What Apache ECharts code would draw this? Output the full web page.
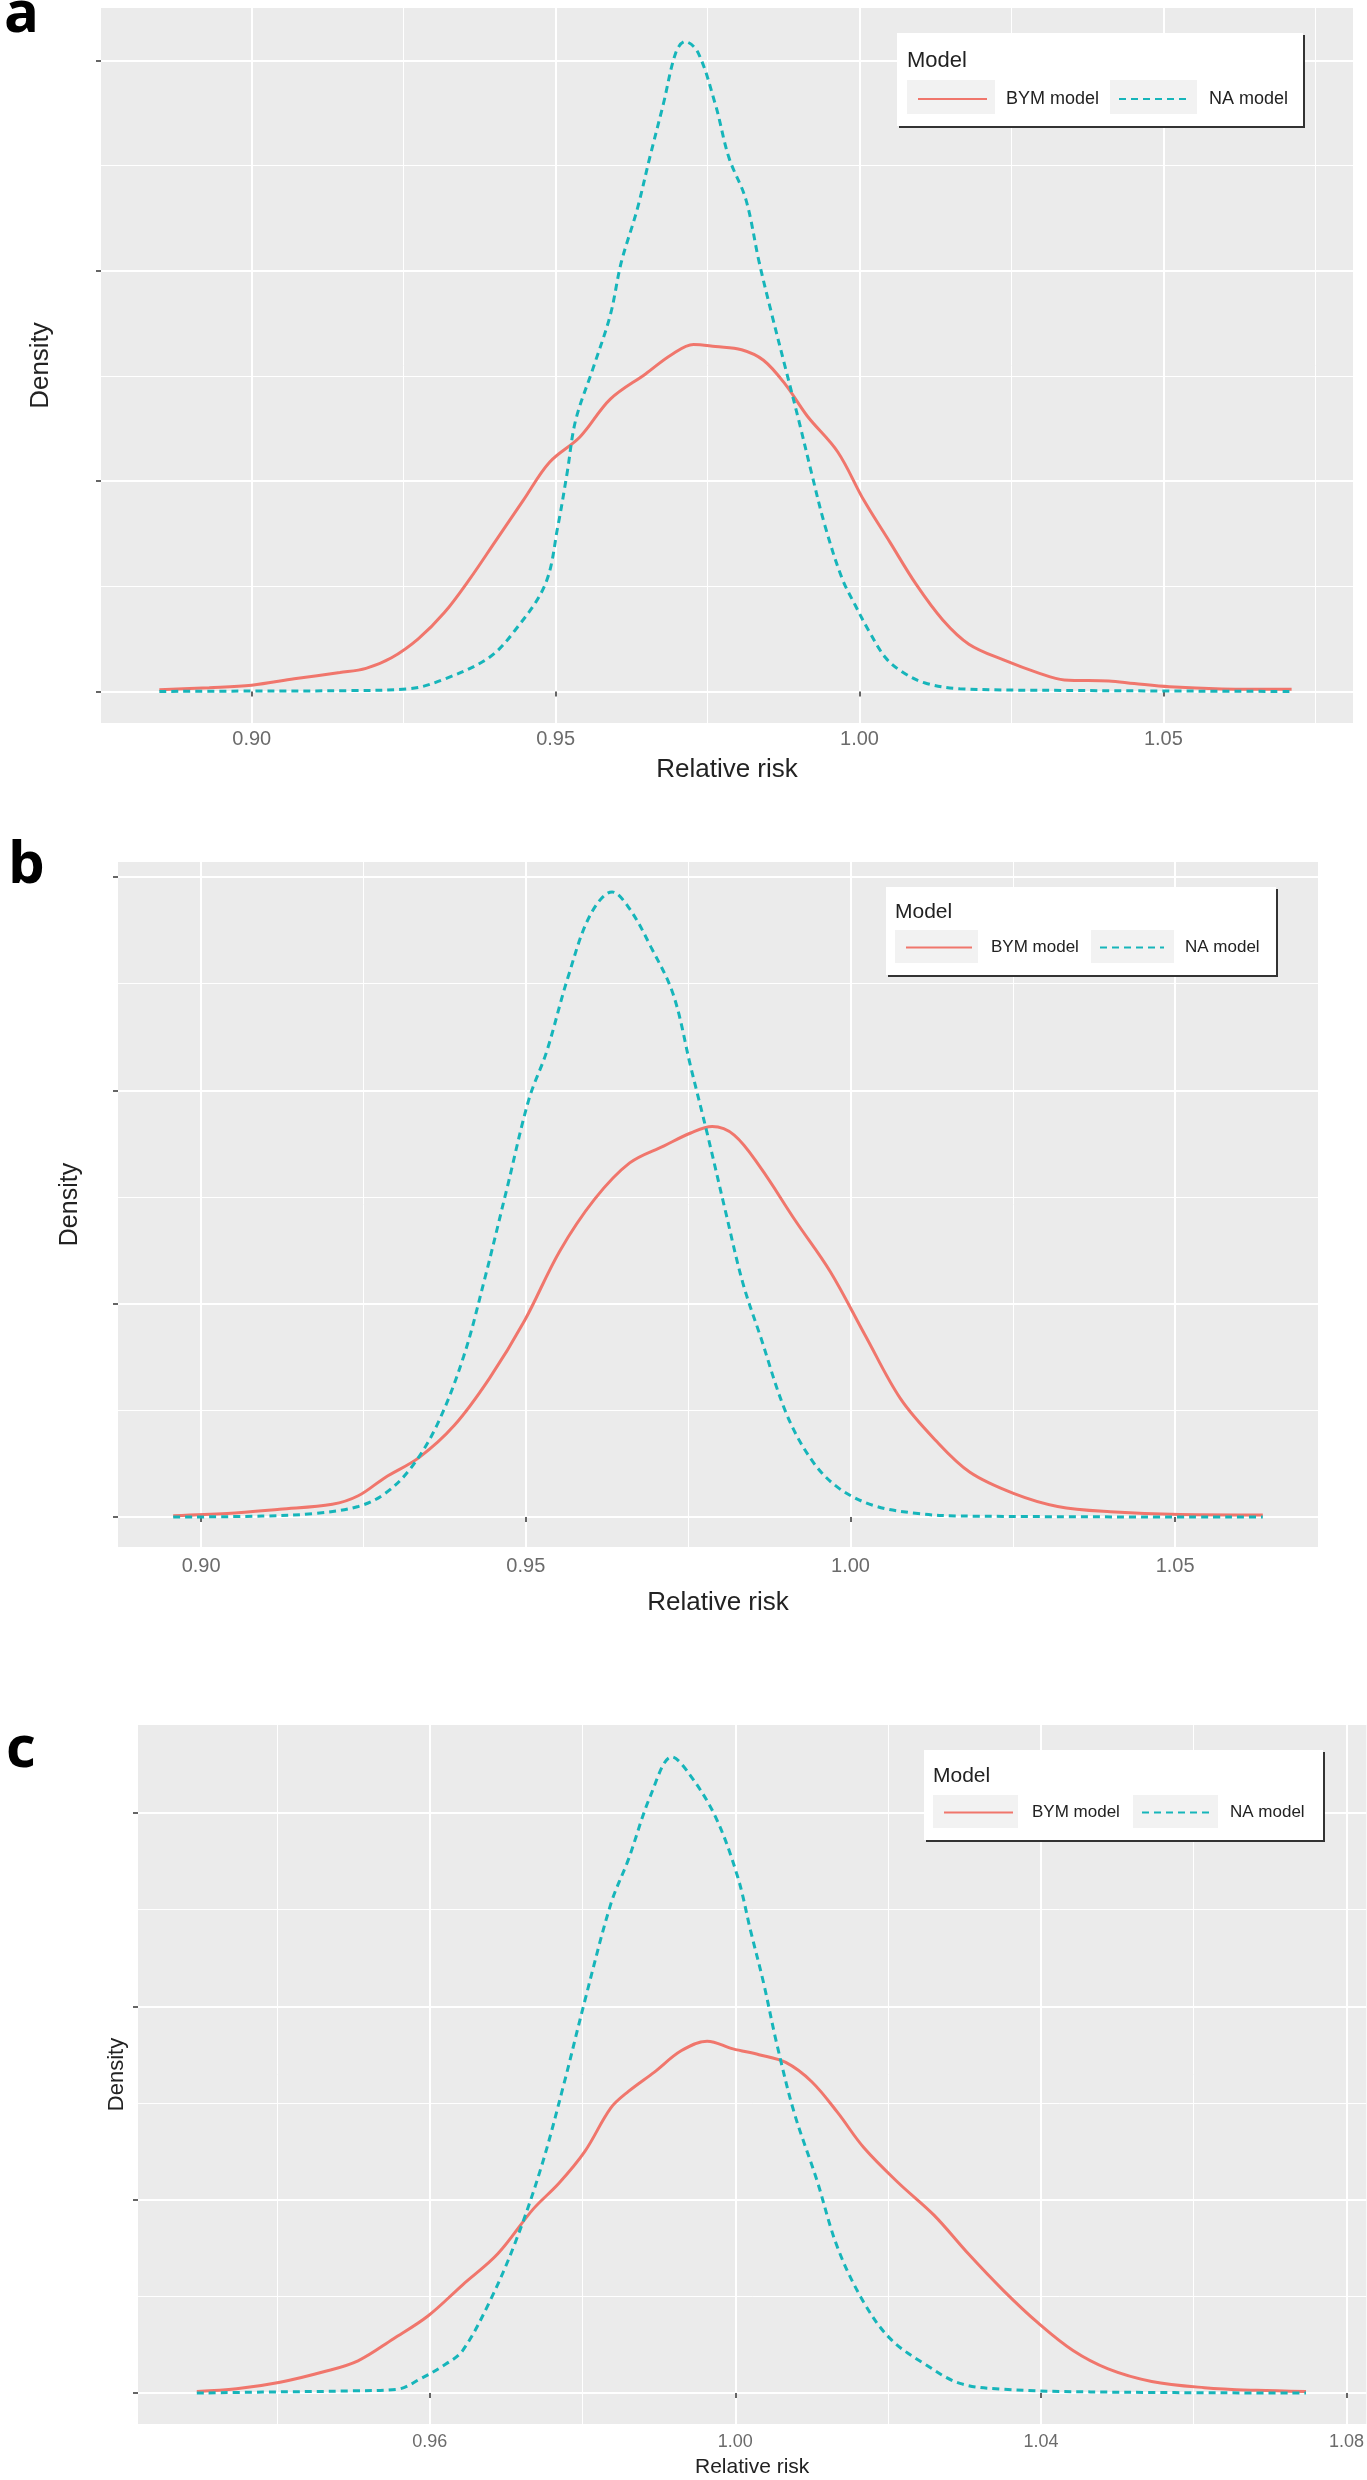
<!DOCTYPE html>
<html>
<head>
<meta charset="utf-8">
<script src="https://cdn.jsdelivr.net/npm/echarts@6/dist/echarts.min.js"></script>
<style>
html,body{margin:0;padding:0;background:#fff;}
#chart{width:1367px;height:2480px;}
</style>
</head>
<body>
<div id="chart"></div>
<script>
// ---------------- data ----------------
const seriesNames = ['BYM model', 'NA model'];
const panelLabels = ['a', 'b', 'c'];

// Panel a
const naA_x  = [0.8848,0.900,0.916,0.926,0.9318,0.939,0.9433,0.9483,0.9504,0.9519,0.9533,0.9562,0.959,0.9608,0.9634,0.9655,0.9677,0.9698,0.9713,0.9734,0.9763,0.9785,0.9813,0.9835,0.9856,0.9878,0.99,0.9921,0.9943,0.9971,0.9993,1.0015,1.0043,1.0072,1.0108,1.0165,1.0338,1.0711];
const naA_y  = [0,0.002,0.004,0.013,0.06,0.16,0.29,0.51,0.79,1.04,1.29,1.54,1.79,2.04,2.29,2.54,2.79,3.04,3.09,3.04,2.79,2.54,2.34,2.04,1.79,1.54,1.29,1.04,0.79,0.54,0.41,0.29,0.16,0.09,0.04,0.013,0.005,0];
const bymA_x = [0.8848,0.893,0.900,0.907,0.9145,0.9188,0.923,0.9274,0.9317,0.936,0.940,0.9447,0.949,0.954,0.959,0.9648,0.969,0.9727,0.9763,0.9806,0.9842,0.9878,0.9914,0.9964,1.0007,1.005,1.0093,1.0137,1.018,1.0237,1.0295,1.0337,1.041,1.0452,1.051,1.0596,1.0711];
const bymA_y = [0.008,0.018,0.03,0.06,0.09,0.11,0.16,0.25,0.375,0.54,0.71,0.91,1.09,1.21,1.39,1.51,1.60,1.65,1.64,1.625,1.575,1.46,1.31,1.14,0.91,0.71,0.51,0.34,0.225,0.15,0.0875,0.055,0.05,0.0375,0.022,0.012,0.01];

// Panel b
const naB_x  = [0.8957,0.9094,0.9175,0.9242,0.9283,0.9323,0.9363,0.9404,0.9437,0.9471,0.9505,0.9532,0.9565,0.9599,0.9633,0.966,0.9693,0.9727,0.9754,0.978,0.9807,0.9834,0.9861,0.9902,0.9942,0.9982,1.0036,1.0104,1.0171,1.0635];
const naB_y  = [0,0.005,0.017,0.05,0.11,0.23,0.43,0.75,1.12,1.54,1.96,2.18,2.53,2.82,2.93,2.85,2.67,2.45,2.11,1.79,1.44,1.10,0.85,0.48,0.26,0.136,0.054,0.017,0.005,0];
const bymB_x = [0.8957,0.904,0.9121,0.9202,0.9242,0.9283,0.9336,0.939,0.9444,0.9498,0.9552,0.9606,0.966,0.9713,0.9754,0.9787,0.9821,0.9861,0.9915,0.9969,1.0023,1.0077,1.0131,1.0184,1.0252,1.0319,1.04,1.0507,1.0635];
const bymB_y = [0.007,0.017,0.037,0.06,0.1,0.185,0.28,0.43,0.65,0.92,1.245,1.49,1.66,1.74,1.80,1.83,1.79,1.64,1.39,1.15,0.85,0.555,0.36,0.21,0.11,0.05,0.025,0.012,0.01];

// Panel c
const naC_x  = [0.9295,0.9381,0.9495,0.9558,0.9586,0.9621,0.9643,0.9678,0.9712,0.9746,0.9775,0.9803,0.9837,0.986,0.9889,0.9917,0.994,0.9974,1.0003,1.002,1.0037,1.0054,1.0077,1.0106,1.0134,1.0168,1.0203,1.0248,1.0294,1.0351,1.0465,1.0747];
const naC_y  = [0,0.005,0.011,0.02,0.07,0.15,0.22,0.47,0.78,1.17,1.59,2.03,2.53,2.76,3.09,3.29,3.20,2.98,2.67,2.39,2.12,1.81,1.45,1.11,0.75,0.47,0.28,0.15,0.05,0.02,0.006,0];
const bymC_x = [0.9295,0.9347,0.9404,0.9461,0.9506,0.9552,0.9598,0.9643,0.9689,0.9735,0.9769,0.9803,0.9837,0.986,0.9894,0.9929,0.9963,0.9997,1.0031,1.0066,1.01,1.0134,1.0168,1.0214,1.026,1.0305,1.0351,1.0397,1.0442,1.0488,1.0545,1.0614,1.0682,1.0747];
const bymC_y = [0.008,0.022,0.056,0.11,0.167,0.28,0.40,0.56,0.72,0.95,1.085,1.25,1.475,1.56,1.66,1.77,1.82,1.78,1.75,1.71,1.61,1.45,1.27,1.085,0.92,0.72,0.53,0.36,0.22,0.125,0.06,0.028,0.014,0.008];

// tick / gridline values
const xMajorA = [0.90, 0.95, 1.00, 1.05];
const xMinorA = [0.875, 0.925, 0.975, 1.025, 1.075];
const xMajorB = [0.90, 0.95, 1.00, 1.05];
const xMinorB = [0.925, 0.975, 1.025];
const xMajorC = [0.96, 1.00, 1.04, 1.08];
const xMinorC = [0.94, 0.98, 1.02, 1.06];
const yMajor = [0, 1, 2, 3];
const yMinor = [0.5, 1.5, 2.5];

// ---------------- layout / style ----------------
const FONT = "'Liberation Sans', Arial, sans-serif";
const BYM_COLOR = '#F0766C';
const NA_COLOR = '#16B5BA';

const panels = [
  { grid: {left:101, top:8, width:1252, height:715},
    xr:[0.8752,1.0812], yr:[-0.15,3.25],
    xMaj:xMajorA, xMin:xMinorA, bx:bymA_x, by:bymA_y, nx:naA_x, ny:naA_y,
    tickFont:20, labMargin:6, nameFont:26, nameGap:34, yNameFont:26, yNameGap:47,
    label:{x:4, y:-14},
    leg:{box:[897,33,406,93], titleX:907, titleY:61, titleFont:22,
         keys:[[907,80,88,34],[1110,80,87,34]], lines:[[917,69,14],[1118,68,17]], cy:97, font:18} },
  { grid: {left:118, top:862, width:1200, height:685},
    xr:[0.8872,1.0720], yr:[-0.14,3.07],
    xMaj:xMajorB, xMin:xMinorB, bx:bymB_x, by:bymB_y, nx:naB_x, ny:naB_y,
    tickFont:20, labMargin:9, nameFont:26, nameGap:43, yNameFont:25, yNameGap:35,
    label:{x:8, y:837},
    leg:{box:[886,887,390,88], titleX:895, titleY:912, titleFont:21,
         keys:[[895,930,83,33],[1091,930,83,33]], lines:[[905,66,14],[1099,64,16]], cy:946, font:17} },
  { grid: {left:138, top:1725, width:1229, height:699},
    xr:[0.9218,1.0826], yr:[-0.16,3.455],
    xMaj:xMajorC, xMin:xMinorC, bx:bymC_x, by:bymC_y, nx:naC_x, ny:naC_y,
    tickFont:18, labMargin:9, nameFont:21, nameGap:33, yNameFont:22, yNameGap:10,
    label:{x:6, y:1721},
    leg:{box:[924,1750,399,90], titleX:933, titleY:1776, titleFont:21,
         keys:[[933,1795,85,33],[1133,1795,85,33]], lines:[[943,69,14],[1141,68,15]], cy:1811, font:17} }
];

const zip = (xs, ys) => xs.map((x, i) => [x, ys[i]]);

const option = {
  animation: false,
  backgroundColor: '#ffffff',
  grid: [], xAxis: [], yAxis: [], series: [], legend: [], graphic: [], title: []
};

panels.forEach((p, k) => {
  option.grid.push(Object.assign({show:true, backgroundColor:'#EBEBEB', borderWidth:0, containLabel:false}, p.grid));
  // main x axis
  option.xAxis.push({
    type:'value', gridIndex:k, min:p.xr[0], max:p.xr[1], position:'bottom',
    axisLine:{show:false},
    axisTick:{show:true, customValues:p.xMaj, length:5, lineStyle:{color:'#333', width:1.5}},
    axisLabel:{show:true, customValues:p.xMaj, margin:p.labMargin, fontSize:p.tickFont, color:'#6b6b6b',
               fontFamily:FONT, formatter:(v)=>Number(v).toFixed(2)},
    splitLine:{show:true, lineStyle:{color:'#ffffff', width:2}},
    name:'Relative risk', nameLocation:'middle', nameGap:p.nameGap,
    nameTextStyle:{fontSize:p.nameFont, color:'#222', fontFamily:FONT}
  });
  // minor x gridlines
  option.xAxis.push({
    type:'value', gridIndex:k, min:p.xr[0], max:p.xr[1], position:'top',
    axisLine:{show:false}, axisLabel:{show:false},
    axisTick:{show:false, customValues:p.xMin},
    splitLine:{show:true, lineStyle:{color:'#ffffff', width:1}}
  });
  // main y axis
  option.yAxis.push({
    type:'value', gridIndex:k, min:p.yr[0], max:p.yr[1], position:'left',
    axisLine:{show:false},
    axisTick:{show:true, customValues:yMajor, length:5, lineStyle:{color:'#333', width:1.5}},
    axisLabel:{show:false},
    splitLine:{show:true, lineStyle:{color:'#ffffff', width:2}},
    name:'Density', nameLocation:'middle', nameGap:p.yNameGap,
    nameTextStyle:{fontSize:p.yNameFont, color:'#222', fontFamily:FONT}
  });
  // minor y gridlines
  option.yAxis.push({
    type:'value', gridIndex:k, min:p.yr[0], max:p.yr[1], position:'right',
    axisLine:{show:false}, axisLabel:{show:false},
    axisTick:{show:false, customValues:yMinor},
    splitLine:{show:true, lineStyle:{color:'#ffffff', width:1}}
  });

  option.series.push({
    name:seriesNames[0], type:'line', xAxisIndex:2*k, yAxisIndex:2*k,
    data:zip(p.bx, p.by), symbol:'none', showSymbol:false, smooth:0.35,
    lineStyle:{color:BYM_COLOR, width:3}, itemStyle:{color:BYM_COLOR}, z:3
  });
  option.series.push({
    name:seriesNames[1], type:'line', xAxisIndex:2*k, yAxisIndex:2*k,
    data:zip(p.nx, p.ny), symbol:'none', showSymbol:false, smooth:0.35,
    lineStyle:{color:NA_COLOR, width:3, type:[7,5]}, itemStyle:{color:NA_COLOR}, z:4
  });

  // panel letter
  option.title.push({
    text:panelLabels[k], left:p.label.x, top:p.label.y, padding:0,
    textStyle:{fontSize:58, fontWeight:'bold', fontFamily:"'Open Sans', 'DejaVu Sans', sans-serif", color:'#000'}
  });

  // legend box
  const L = p.leg;
  option.graphic.push({type:'rect', z:20, silent:true,
    shape:{x:L.box[0]+2, y:L.box[1]+2, width:L.box[2], height:L.box[3]}, style:{fill:'#333'}});
  option.graphic.push({type:'rect', z:21, silent:true,
    shape:{x:L.box[0], y:L.box[1], width:L.box[2], height:L.box[3]}, style:{fill:'#ffffff'}});
  option.graphic.push({type:'text', z:22, silent:true, x:L.titleX, y:L.titleY,
    style:{text:'Model', fontSize:L.titleFont, fontFamily:FONT, fill:'#222', verticalAlign:'middle', align:'left'}});
  L.keys.forEach(r => option.graphic.push({type:'rect', z:22, silent:true,
    shape:{x:r[0], y:r[1], width:r[2], height:r[3]}, style:{fill:'#F2F2F2'}}));
  L.lines.forEach((ln, j) => option.legend.push({
    data:[seriesNames[j]], left:ln[0], top:L.cy - 7, padding:0, z:30, zlevel:0,
    itemWidth:ln[1], itemHeight:14, selectedMode:false,
    itemStyle:{opacity:0},
    textStyle:{fontSize:L.font, color:'#222', fontFamily:FONT, padding:[0,0,0,ln[2]]}
  }));
});

const chart = echarts.init(document.getElementById('chart'), null, {renderer:'canvas', width:1367, height:2480});
chart.setOption(option);
</script>
</body>
</html>
